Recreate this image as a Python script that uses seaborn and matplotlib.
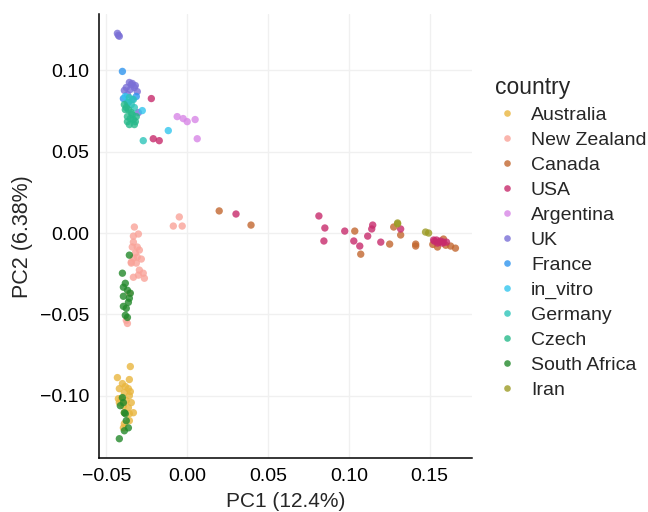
import numpy as np
import pandas as pd
import seaborn as sns
import matplotlib.pyplot as plt
from matplotlib.ticker import FuncFormatter

countries = ['Australia', 'New Zealand', 'Canada', 'USA', 'Argentina', 'UK',
             'France', 'in_vitro', 'Germany', 'Czech', 'South Africa', 'Iran']
colors = ['#E9B63E', '#F9A399', '#C2672F', '#C72B6C', '#D886E6', '#7A6FD6',
          '#2F95EE', '#33C6EE', '#2EC5BA', '#27B98A', '#23892B', '#9C9B25']

# PC scores, one block per country
australia_pc1 = [-0.0352, -0.0432, -0.0401, -0.0420, -0.0389, -0.0364, -0.0407, -0.0377, -0.0346, -0.0358,
                 -0.0420, -0.0395, -0.0364, -0.0333, -0.0389, -0.0358, -0.0389, -0.0358, -0.0395, -0.0358,
                 -0.0383, -0.0352, -0.0426]
australia_pc2 = [-0.0821, -0.0889, -0.0926, -0.0957, -0.0981, -0.0957, -0.1019, -0.1031, -0.1043, -0.1000,
                 -0.1043, -0.1062, -0.1074, -0.1105, -0.1105, -0.1111, -0.1173, -0.1154, -0.1198, -0.0901,
                 -0.0944, -0.0975, -0.1019]

nz_pc1 = [-0.0049, -0.0086, -0.0031, -0.0327, -0.0333, -0.0302, -0.0333, -0.0340, -0.0309, -0.0296,
          -0.0321, -0.0333, -0.0309, -0.0346, -0.0346, -0.0315, -0.0284, -0.0296, -0.0272, -0.0302,
          -0.0333, -0.0265, -0.0358, -0.0377, -0.0370]
nz_pc2 = [0.0099, 0.0043, 0.0043, 0.0037, -0.0019, -0.0006, -0.0056, -0.0086, -0.0086, -0.0105,
          -0.0123, -0.0154, -0.0148, -0.0179, -0.0185, -0.0185, -0.0160, -0.0228, -0.0247, -0.0259,
          -0.0272, -0.0278, -0.0370, -0.0537, -0.0556]

canada_pc1 = [0.0198, 0.0395, 0.1037, 0.1074, 0.1253, 0.1278, 0.1321, 0.1414, 0.1414, 0.1586,
              0.1549, 0.1630, 0.1660, 0.1600, 0.1520]
canada_pc2 = [0.0136, 0.0049, 0.0012, -0.0130, -0.0068, 0.0037, -0.0012, -0.0068, -0.0080, -0.0037,
              -0.0086, -0.0080, -0.0093, -0.0075, -0.0070]

usa_pc1 = [-0.0222, -0.0210, -0.0173, 0.0302, 0.0815, 0.0852, 0.0846, 0.0975, 0.1031, 0.1068,
           0.1117, 0.1142, 0.1148, 0.1198, 0.1321, 0.1525, 0.1543, 0.1568, 0.1586, 0.1605,
           0.1549, 0.1580, 0.1530, 0.1560]
usa_pc2 = [0.0827, 0.0580, 0.0568, 0.0117, 0.0105, 0.0031, -0.0049, 0.0012, -0.0049, -0.0080,
           -0.0019, 0.0025, 0.0049, -0.0056, 0.0025, -0.0043, -0.0043, -0.0049, -0.0056, -0.0056,
           -0.0062, -0.0062, -0.0050, -0.0055]

argentina_pc1 = [-0.0062, -0.0025, 0.0000, 0.0049, 0.0062]
argentina_pc2 = [0.0716, 0.0704, 0.0685, 0.0698, 0.0580]

uk_pc1 = [-0.0432, -0.0426, -0.0420, -0.0358, -0.0340, -0.0321, -0.0377, -0.0309, -0.0389, -0.0346,
          -0.0327, -0.0370, -0.0302, -0.0352]
uk_pc2 = [0.1228, 0.1216, 0.1210, 0.0926, 0.0920, 0.0907, 0.0895, 0.0870, 0.0877, 0.0914,
          0.0895, 0.0852, 0.0741, 0.0883]

france_pc1 = [-0.0401, -0.0395, -0.0340, -0.0315, -0.0364]
france_pc2 = [0.0994, 0.0827, 0.0821, 0.0840, 0.0802]

invitro_pc1 = [-0.0278, -0.0117, -0.0383]
invitro_pc2 = [0.0753, 0.0630, 0.0840]

germany_pc1 = [-0.0272, -0.0358, -0.0333, -0.0370, -0.0346, -0.0327]
germany_pc2 = [0.0568, 0.0833, 0.0821, 0.0802, 0.0790, 0.0772]

czech_pc1 = [-0.0389, -0.0377, -0.0364, -0.0346, -0.0370, -0.0352, -0.0333, -0.0321, -0.0358, -0.0383,
             -0.0340, -0.0315, -0.0370, -0.0327]
czech_pc2 = [0.0790, 0.0772, 0.0759, 0.0741, 0.0716, 0.0704, 0.0698, 0.0685, 0.0667, 0.0759,
             0.0728, 0.0716, 0.0685, 0.0667]

safrica_pc1 = [-0.0358, -0.0401, -0.0383, -0.0395, -0.0370, -0.0352, -0.0395, -0.0358, -0.0364, -0.0395,
               -0.0377, -0.0383, -0.0370, -0.0401, -0.0414, -0.0389, -0.0377, -0.0364, -0.0389, -0.0420,
               -0.0395, -0.0383]
safrica_pc2 = [-0.0136, -0.0247, -0.0309, -0.0333, -0.0352, -0.0370, -0.0389, -0.0401, -0.0426, -0.0451,
               -0.0463, -0.0506, -0.0519, -0.1012, -0.1062, -0.1105, -0.1154, -0.1198, -0.1216, -0.1265,
               -0.1043, -0.1111]

iran_pc1 = [0.1302, 0.1302, 0.1475, 0.1494]
iran_pc2 = [0.0062, 0.0056, 0.0006, 0.0000]

pc1_lists = [australia_pc1, nz_pc1, canada_pc1, usa_pc1, argentina_pc1, uk_pc1,
             france_pc1, invitro_pc1, germany_pc1, czech_pc1, safrica_pc1, iran_pc1]
pc2_lists = [australia_pc2, nz_pc2, canada_pc2, usa_pc2, argentina_pc2, uk_pc2,
             france_pc2, invitro_pc2, germany_pc2, czech_pc2, safrica_pc2, iran_pc2]

rows = []
for c, xs, ys in zip(countries, pc1_lists, pc2_lists):
    for x, y in zip(xs, ys):
        rows.append((c, x, y))
df = pd.DataFrame(rows, columns=['country', 'PC1', 'PC2'])

sns.set_style('white')
plt.rcParams['font.family'] = ['Liberation Sans', 'DejaVu Sans']

fig = plt.figure(figsize=(6.48, 5.12), dpi=100)
ax = fig.add_axes([0.153, 0.105, 0.576, 0.867])

sns.scatterplot(data=df, x='PC1', y='PC2', hue='country', hue_order=countries,
                palette=dict(zip(countries, colors)), s=28, alpha=0.8,
                linewidth=0, ax=ax)

ax.set_xlim(-0.0545, 0.1765)
ax.set_ylim(-0.1385, 0.1345)
ax.set_xticks([-0.05, 0.0, 0.05, 0.10, 0.15])
ax.set_yticks([-0.10, -0.05, 0.0, 0.05, 0.10])
fmt = FuncFormatter(lambda v, p: f'{v:.2f}'.replace('-', '\u2212'))
ax.xaxis.set_major_formatter(fmt)
ax.yaxis.set_major_formatter(fmt)
ax.grid(True, color='#F0F0F0', linewidth=1.0)
ax.set_axisbelow(True)

for side in ['top', 'right']:
    ax.spines[side].set_visible(False)
for side in ['left', 'bottom']:
    ax.spines[side].set_color('black')
    ax.spines[side].set_linewidth(1.1)
ax.tick_params(axis='both', direction='out', length=4, width=1.1, color='black',
               labelsize=14, labelcolor='black', pad=3)

ax.set_xlabel('PC1 (12.4%)', fontsize=15, labelpad=5)
ax.set_ylabel('PC2 (6.38%)', fontsize=15.5, labelpad=5)

handles, labels = ax.get_legend_handles_labels()
ax.legend(handles, labels, title='country', loc='upper left',
          bbox_to_anchor=(1.06, 0.861), frameon=False, fontsize=14,
          title_fontsize=16.5, markerscale=0.9, handlelength=1.24,
          handletextpad=0.62, labelspacing=0.38, borderaxespad=0,
          borderpad=0)
leg = ax.get_legend()
leg._legend_box.align = 'left'

fig.savefig('out.png', dpi=100)
